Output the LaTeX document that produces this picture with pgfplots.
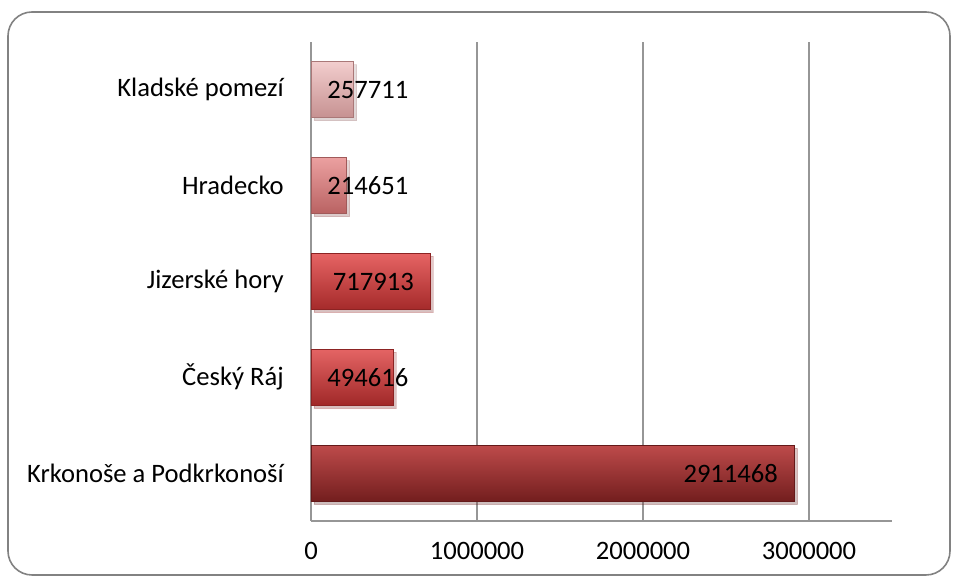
\documentclass[border=0pt]{standalone}
\usepackage{pgfplots}
\pgfplotsset{compat=1.18}
\usepackage{fontspec}
\setmainfont{Carlito}
\usetikzlibrary{shadows}
\definecolor{gridg}{RGB}{150,150,150}
\definecolor{frameg}{RGB}{130,130,130}
\begin{document}
\begin{tikzpicture}
\fontsize{13.3}{16}\selectfont
\path[use as bounding box] (-155.5pt,-30pt) rectangle (323.5pt,260.5pt);
\draw[frameg, line width=0.8pt, rounded corners=12pt, fill=white] (-151.5pt,-27pt) rectangle (319.5pt,254.5pt);
\begin{axis}[at={(0,0)}, anchor=south west, scale only axis,
  width=290.5pt, height=239.5pt,
  xbar, bar width=28pt, bar shift=0pt,
  xmin=0, xmax=3500000, ymin=0.5, ymax=5.5,
  ytick={1,2,3,4,5},
  yticklabels={Krkonoše a Podkrkonoší, Český Ráj, Jizerské hory, Hradecko, Kladské pomezí},
  xtick={0,1000000,2000000,3000000},
  xticklabels={0,1000000,2000000,3000000},
  axis x line*=bottom, axis y line*=left,
  axis line style={gridg, line width=0.8pt, -},
  major tick length=0pt,
  xmajorgrids, grid style={gridg, line width=0.8pt},
  xticklabel style={yshift=-6pt, font=\fontsize{13.3}{16}\selectfont},
  yticklabel style={xshift=-9pt, font=\fontsize{13.3}{16}\selectfont},
  clip=false,
]
% Krkonose a Podkrkonosi
\addplot[draw={rgb,255:red,100;green,25;blue,25}, top color={rgb,255:red,190;green,75;blue,75}, middle color={rgb,255:red,152;green,44;blue,44}, bottom color={rgb,255:red,115;green,30;blue,30}, drop shadow={shadow xshift=1.5pt, shadow yshift=-1.5pt, opacity=0.2},
  nodes near coords, every node near coord/.style={anchor=east, xshift=-8pt, inner sep=0pt, black, font=\fontsize{13.3}{16}\selectfont, /pgf/number format/fixed, /pgf/number format/1000 sep={}, /pgf/number format/assume math mode=true}]
  coordinates {(2911468,1)};
% Cesky Raj
\addplot[draw={rgb,255:red,140;green,35;blue,35}, top color={rgb,255:red,228;green,100;blue,100}, middle color={rgb,255:red,200;green,58;blue,58}, bottom color={rgb,255:red,160;green,40;blue,40}, drop shadow={shadow xshift=1.5pt, shadow yshift=-1.5pt, opacity=0.2}]
  coordinates {(494616,2)};
% Jizerske hory
\addplot[draw={rgb,255:red,140;green,35;blue,35}, top color={rgb,255:red,230;green,100;blue,100}, middle color={rgb,255:red,205;green,60;blue,60}, bottom color={rgb,255:red,165;green,42;blue,42}, drop shadow={shadow xshift=1.5pt, shadow yshift=-1.5pt, opacity=0.2},
  nodes near coords, every node near coord/.style={anchor=east, xshift=-8pt, inner sep=0pt, black, font=\fontsize{13.3}{16}\selectfont, /pgf/number format/fixed, /pgf/number format/1000 sep={}, /pgf/number format/assume math mode=true}]
  coordinates {(717913,3)};
% Hradecko
\addplot[draw={rgb,255:red,160;green,90;blue,90}, top color={rgb,255:red,235;green,160;blue,160}, middle color={rgb,255:red,215;green,125;blue,125}, bottom color={rgb,255:red,185;green,98;blue,98}, drop shadow={shadow xshift=1.5pt, shadow yshift=-1.5pt, opacity=0.2}]
  coordinates {(214651,4)};
% Kladske pomezi
\addplot[draw={rgb,255:red,170;green,120;blue,120}, top color={rgb,255:red,242;green,205;blue,205}, middle color={rgb,255:red,225;green,178;blue,178}, bottom color={rgb,255:red,198;green,145;blue,145}, drop shadow={shadow xshift=1.5pt, shadow yshift=-1.5pt, opacity=0.2}]
  coordinates {(257711,5)};
\node[anchor=west, inner sep=0pt, xshift=8pt] at (axis cs:0,2) {494616};
\node[anchor=west, inner sep=0pt, xshift=8pt] at (axis cs:0,4) {214651};
\node[anchor=west, inner sep=0pt, xshift=8pt] at (axis cs:0,5) {257711};
\end{axis}
\end{tikzpicture}
\end{document}
